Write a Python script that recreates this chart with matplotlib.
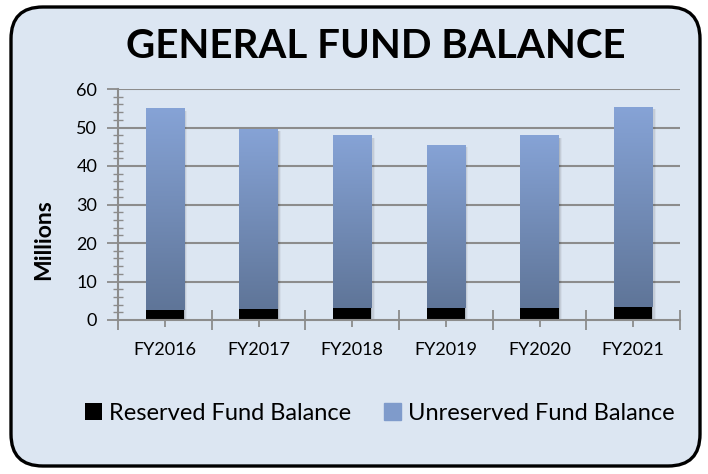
import numpy as np
import matplotlib
matplotlib.use("Agg")
import matplotlib.pyplot as plt
from matplotlib.patches import FancyBboxPatch, Rectangle
from matplotlib.colors import LinearSegmentedColormap
from matplotlib.ticker import MultipleLocator, FixedLocator, NullFormatter

categories = ["FY2016", "FY2017", "FY2018", "FY2019", "FY2020", "FY2021"]
reserved = [2.6, 2.9, 3.1, 3.1, 3.1, 3.4]
unreserved = [52.4, 46.8, 44.9, 42.4, 44.9, 51.9]
title = "GENERAL FUND BALANCE"
ylabel = "Millions"
legend_labels = ["Reserved Fund Balance", "Unreserved Fund Balance"]

plt.rcParams['font.family'] = ['Lato', 'DejaVu Sans']

BG = "#DCE6F2"
fig = plt.figure(figsize=(7.08, 4.74), dpi=100)
fig.patch.set_facecolor("white")

frame = FancyBboxPatch((11 / 708, 8 / 474), 689 / 708, 459 / 474,
                       boxstyle="round,pad=0,rounding_size=0.045",
                       transform=fig.transFigure, facecolor=BG,
                       edgecolor="black", linewidth=2.4,
                       mutation_aspect=708 / 474, zorder=-5)
fig.patches.append(frame)

ax = fig.add_axes([118 / 708, 1 - 320 / 474, 562 / 708, 231 / 474])
ax.set_zorder(2)
ax.set_facecolor("none")
x = np.arange(len(categories))
width = 0.41

grid_c = "#8C8C8C"
for yv in range(10, 61, 10):
    ax.axhline(yv, color=grid_c, lw=1.5, zorder=1)

totals = [r + u for r, u in zip(reserved, unreserved)]
cmap = LinearSegmentedColormap.from_list("g", ["#5F7598", "#86A3D6"])
grad = np.linspace(0, 1, 256).reshape(-1, 1)

# soft shadows
for xi, t in zip(x, totals):
    for k, a in enumerate([0.10, 0.07, 0.04]):
        off = 0.012 * (k + 1)
        ax.add_patch(Rectangle((xi - width / 2 + off, -0.4), width, t - 0.2,
                               facecolor="black", alpha=a, lw=0, zorder=2))

bars_r = ax.bar(x, reserved, width, color="black", zorder=4, label=legend_labels[0])
bars_u = ax.bar(x, unreserved, width, bottom=reserved, color="#7F9BCB",
                zorder=3, label=legend_labels[1])
for b in bars_u:
    bx, by = b.get_x(), b.get_y()
    im = ax.imshow(grad, extent=(bx, bx + b.get_width(), by, by + b.get_height()),
                   origin="lower", cmap=cmap, aspect="auto", zorder=3.5)
    im.set_clip_path(b)
ax.set_xlim(-0.5, len(categories) - 0.5)
ax.set_ylim(0, 60)

for s in ["top", "right"]:
    ax.spines[s].set_visible(False)
for s in ["left", "bottom"]:
    ax.spines[s].set_color(grid_c)
    ax.spines[s].set_linewidth(1.5)
    ax.spines[s].set_zorder(5)

ax.yaxis.set_major_locator(MultipleLocator(10))
ax.yaxis.set_minor_locator(MultipleLocator(2))
ax.tick_params(axis="y", which="major", direction="out", length=8, width=1.3,
               color=grid_c, labelsize=13, pad=7)
ax.tick_params(axis="y", which="minor", direction="inout", length=7, width=1.0,
               color=grid_c)

ax.xaxis.set_major_locator(FixedLocator(x))
ax.set_xticklabels(categories)
ax.xaxis.set_minor_locator(FixedLocator(np.arange(-0.5, len(categories), 1.0)))
ax.xaxis.set_minor_formatter(NullFormatter())
ax.tick_params(axis="x", which="major", direction="out", length=5, width=1.3,
               color=grid_c, labelsize=13, pad=11)
ax.tick_params(axis="x", which="minor", direction="inout", length=14, width=1.3,
               color=grid_c)

fig.text(44 / 708, 1 - 240 / 474, ylabel, rotation=90, ha="center", va="center",
         fontsize=16.5, fontweight="bold")

fig.text(376 / 708, 1 - 46 / 474, title, ha="center", va="center",
         fontsize=29, fontweight="bold")

leg = fig.legend([bars_r[0], Rectangle((0, 0), 1, 1, color="#7F9BCB")],
                 legend_labels, loc="center", bbox_to_anchor=(380 / 708, 1 - 413 / 474),
                 ncol=2, frameon=False, fontsize=17, handlelength=0.72,
                 handleheight=0.72, handletextpad=0.3, columnspacing=1.4)

fig.savefig("out.png", dpi=100, facecolor=fig.get_facecolor())
